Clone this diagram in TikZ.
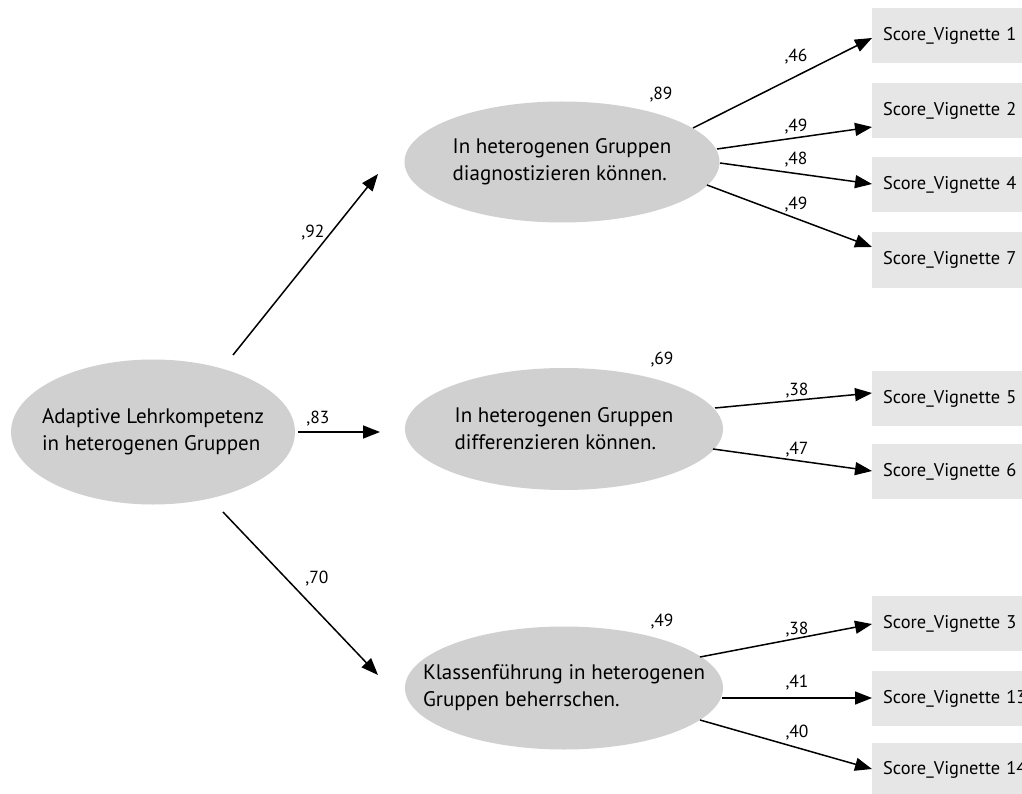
\documentclass[tikz,border=0pt]{standalone}
\usepackage{fontspec}
\setmainfont{PT Sans}
\usetikzlibrary{arrows.meta,shapes.geometric}
\definecolor{ellgray}{HTML}{D0D0D0}
\definecolor{boxgray}{HTML}{E6E6E6}
\begin{document}
\begin{tikzpicture}[x=1pt,y=-1pt,
  lat/.style={ellipse,fill=ellgray,draw=none,inner sep=0pt},
  lattext/.style={inner sep=0pt,align=left,font=\fontsize{21}{27}\selectfont},
  obs/.style={rectangle,fill=boxgray,draw=none,anchor=west,minimum width=170pt,
              minimum height=55pt,text width=150pt,inner xsep=11pt,align=left,
              font=\fontsize{18.4}{20}\selectfont},
  coef/.style={inner sep=0pt,font=\fontsize{17.5}{20}\selectfont},
  arr/.style={line width=1.5pt,-{Triangle[length=17pt,width=13pt]}}]
\useasboundingbox (0,0) rectangle (1022,794);
\clip (0,0) rectangle (1022,794);

% latent variables
\node[lat,minimum width=284pt,minimum height=145pt] (main) at (153,432) {};
\node[lat,minimum width=315pt,minimum height=121pt] (diag) at (562,162) {};
\node[lat,minimum width=318pt,minimum height=122pt] (diff) at (564,429) {};
\node[lat,minimum width=318pt,minimum height=123pt] (klas) at (564,688) {};

\node[lattext] (main-t) at (main) {Adaptive Lehrkompetenz\\in heterogenen Gruppen};
\node[lattext] (diag-t) at (diag) {In heterogenen Gruppen\\diagnostizieren können.};
\node[lattext] (diff-t) at (diff) {In heterogenen Gruppen\\differenzieren können.};
\node[lattext] (klas-t) at (klas) {Klassenführung in heterogenen\\Gruppen beherrschen.};

% observed scores
\node[obs] (v1)  at (872,35.5)  {Score\_Vignette 1};
\node[obs] (v2)  at (872,110.5) {Score\_Vignette 2};
\node[obs] (v4)  at (872,185)   {Score\_Vignette 4};
\node[obs] (v7)  at (872,260)   {Score\_Vignette 7};
\node[obs] (v5)  at (872,398.5) {Score\_Vignette 5};
\node[obs] (v6)  at (872,471.5) {Score\_Vignette 6};
\node[obs] (v3)  at (872,623.5) {Score\_Vignette 3};
\node[obs] (v13) at (872,698.5) {Score\_Vignette 13};
\node[obs] (v14) at (872,770) {Score\_Vignette 14};

% connector end points
\coordinate (m1) at (233,355);  \coordinate (t1) at (378,174);
\coordinate (m2) at (298,432);  \coordinate (t2) at (380,432);
\coordinate (m3) at (223,512);  \coordinate (t3) at (378,675);

\coordinate (d1) at (693,128);  \coordinate (d2) at (717,149);
\coordinate (d4) at (720,163);  \coordinate (d7) at (707,185);
\coordinate (f5) at (715,408);  \coordinate (f6) at (713,449);
\coordinate (k3) at (700,657);  \coordinate (k13) at (722,698);
\coordinate (k14) at (700,720);

\coordinate (p1) at (872,38);   \coordinate (p2) at (872,127);
\coordinate (p4) at (872,184);  \coordinate (p7) at (872,247);
\coordinate (p5) at (872,393);  \coordinate (p6) at (872,471);
\coordinate (p3) at (872,624);  \coordinate (p13) at (872,698);
\coordinate (p14) at (872,769);

% paths
\draw[arr] (m1) -- (t1);
\draw[arr] (m2) -- (t2);
\draw[arr] (m3) -- (t3);
\draw[arr] (d1) -- (p1);
\draw[arr] (d2) -- (p2);
\draw[arr] (d4) -- (p4);
\draw[arr] (d7) -- (p7);
\draw[arr] (f5) -- (p5);
\draw[arr] (f6) -- (p6);
\draw[arr] (k3) -- (p3);
\draw[arr] (k13) -- (p13);
\draw[arr] (k14) -- (p14);

% coefficients
\node[coef] (c92) at (313,233) {,92};
\node[coef] (c83) at (318,419) {,83};
\node[coef] (c70) at (317,579) {,70};
\node[coef] (r89) at (661,95)  {,89};
\node[coef] (r69) at (662,360) {,69};
\node[coef] (r49) at (662,622) {,49};
\node[coef] (c46) at (796,57)  {,46};
\node[coef] (c49a) at (796,127) {,49};
\node[coef] (c48) at (796,160) {,48};
\node[coef] (c49b) at (796,205) {,49};
\node[coef] (c38a) at (797,391) {,38};
\node[coef] (c47) at (797,450) {,47};
\node[coef] (c38b) at (797,630) {,38};
\node[coef] (c41) at (797,683) {,41};
\node[coef] (c40) at (797,733) {,40};
\end{tikzpicture}
\end{document}
